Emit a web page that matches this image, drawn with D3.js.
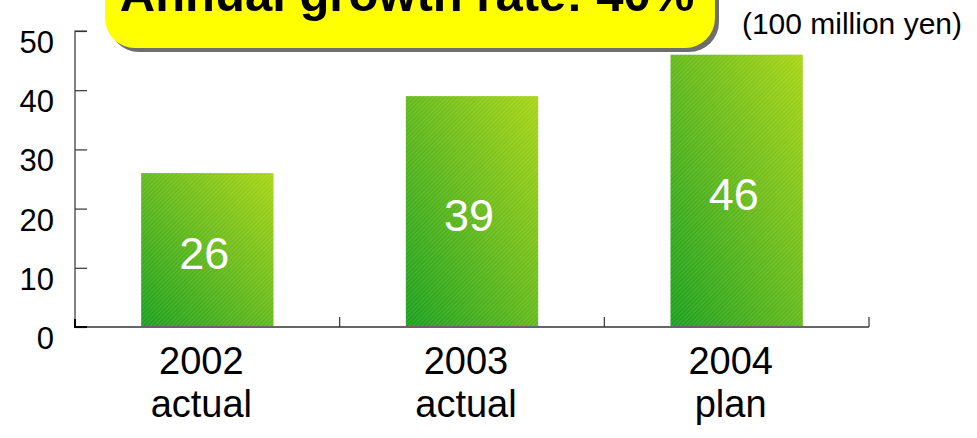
<!DOCTYPE html>
<html>
<head>
<meta charset="utf-8">
<script src="https://cdn.jsdelivr.net/npm/d3@7"></script>
<style>
  html, body { margin: 0; padding: 0; background: #fff; }
  svg { display: block; font-family: Arial, "Liberation Sans", sans-serif; }
</style>
</head>
<body>
<svg id="chart" width="977" height="438"></svg>
<script>
// Sales by fiscal year, in units of 100 million yen
const years = ["2002", "2003", "2004"];
const stages = ["actual", "actual", "plan"];
const sales = [26, 39, 46];
const yTicks = [0, 10, 20, 30, 40, 50];
const titleText = "Annual growth rate: 40%";
const unitText = "(100 million yen)";

const svg = d3.select("#chart");
const plotLeft = 75, plotRight = 869, plotTop = 31, plotBottom = 327;

const x = d3.scaleBand().domain(years).range([plotLeft, plotRight]).paddingInner(0.5).paddingOuter(0.25);
const y = d3.scaleLinear().domain([0, 50]).range([plotBottom, plotTop]);

const defs = svg.append("defs");
const grad = defs.append("linearGradient")
  .attr("id", "barGrad")
  .attr("x1", 0).attr("y1", 1).attr("x2", 1).attr("y2", 0);
grad.append("stop").attr("offset", "0%").attr("stop-color", "#1aa01e");
grad.append("stop").attr("offset", "55%").attr("stop-color", "#6cbc1c");
grad.append("stop").attr("offset", "100%").attr("stop-color", "#a9d516");

// fine diagonal weave over the bars
const pat = defs.append("pattern")
  .attr("id", "weave")
  .attr("patternUnits", "userSpaceOnUse")
  .attr("width", 3).attr("height", 3)
  .attr("patternTransform", "rotate(45)");
pat.append("rect").attr("width", 1).attr("height", 3).attr("fill", "#ffffff").attr("opacity", 0.12);

// Bars
const bars = svg.append("g");
years.forEach((yr, i) => {
  const bx = x(yr), bw = x.bandwidth();
  bars.append("rect")
    .attr("x", bx).attr("y", y(sales[i]))
    .attr("width", bw).attr("height", y(0) - y(sales[i]))
    .attr("fill", "url(#barGrad)");
  bars.append("rect")
    .attr("x", bx).attr("y", y(sales[i]))
    .attr("width", bw).attr("height", y(0) - y(sales[i]))
    .attr("fill", "url(#weave)");
  bars.append("text")
    .attr("x", bx + bw / 2 - 3)
    .attr("y", (y(sales[i]) + y(0)) / 2 + 19)
    .attr("text-anchor", "middle")
    .attr("font-size", 45)
    .attr("fill", "#ffffff")
    .text(sales[i]);
});

// Y axis with inward ticks
const yAxis = d3.axisRight(y).tickValues(yTicks).tickSize(12).tickFormat("");
const gy = svg.append("g").attr("transform", `translate(${plotLeft},0)`).call(yAxis);
gy.select(".domain").attr("stroke", "#333").attr("stroke-width", 1.2).attr("d", `M12,${plotTop}H0V${plotBottom}`);
gy.selectAll(".tick line").attr("stroke", "#333").attr("stroke-width", 1.2);

yTicks.forEach(t => {
  svg.append("text")
    .attr("x", 54).attr("y", y(t) + 22)
    .attr("text-anchor", "end")
    .attr("font-size", 31)
    .attr("fill", "#000")
    .text(t);
});

// X axis baseline and category separators
svg.append("line")
  .attr("x1", plotLeft).attr("x2", plotRight)
  .attr("y1", plotBottom).attr("y2", plotBottom)
  .attr("stroke", "#666").attr("stroke-width", 2);
const step = x.step();
years.forEach((yr) => {
  const sx = x(yr) - step * x.paddingInner() / 2 + step;
  svg.append("line")
    .attr("x1", sx).attr("x2", sx)
    .attr("y1", plotBottom).attr("y2", plotBottom - 10)
    .attr("stroke", "#333").attr("stroke-width", 1.2);
});
svg.append("path")
  .attr("d", `M${plotLeft},${plotBottom - 8}V${plotBottom}H${plotLeft + 12}`)
  .attr("fill", "none").attr("stroke", "#000").attr("stroke-width", 2);

// Category labels
years.forEach((yr, i) => {
  const cx = x(yr) + x.bandwidth() / 2 - 6;
  svg.append("text").attr("x", cx).attr("y", 374)
    .attr("text-anchor", "middle").attr("font-size", 38).attr("fill", "#000").text(yr);
  svg.append("text").attr("x", cx).attr("y", 417)
    .attr("text-anchor", "middle").attr("font-size", 38).attr("fill", "#000").text(stages[i]);
});

// Title banner
const bx0 = 105, bx1 = 715, by1 = 48;
svg.append("rect")
  .attr("x", bx0 + 4).attr("y", -40 + 4)
  .attr("width", bx1 - bx0).attr("height", by1 + 40)
  .attr("rx", 30).attr("fill", "#6e6e6e");
svg.append("rect")
  .attr("x", bx0).attr("y", -40)
  .attr("width", bx1 - bx0).attr("height", by1 + 40)
  .attr("rx", 30).attr("fill", "#ffff00");
svg.append("text")
  .attr("x", 407).attr("y", 11)
  .attr("text-anchor", "middle")
  .attr("font-size", 49).attr("font-weight", "bold")
  .attr("fill", "#000")
  .text(titleText);

// Unit note
svg.append("text")
  .attr("x", 962).attr("y", 34)
  .attr("text-anchor", "end")
  .attr("font-size", 30)
  .attr("fill", "#000")
  .text(unitText);
</script>
</body>
</html>
